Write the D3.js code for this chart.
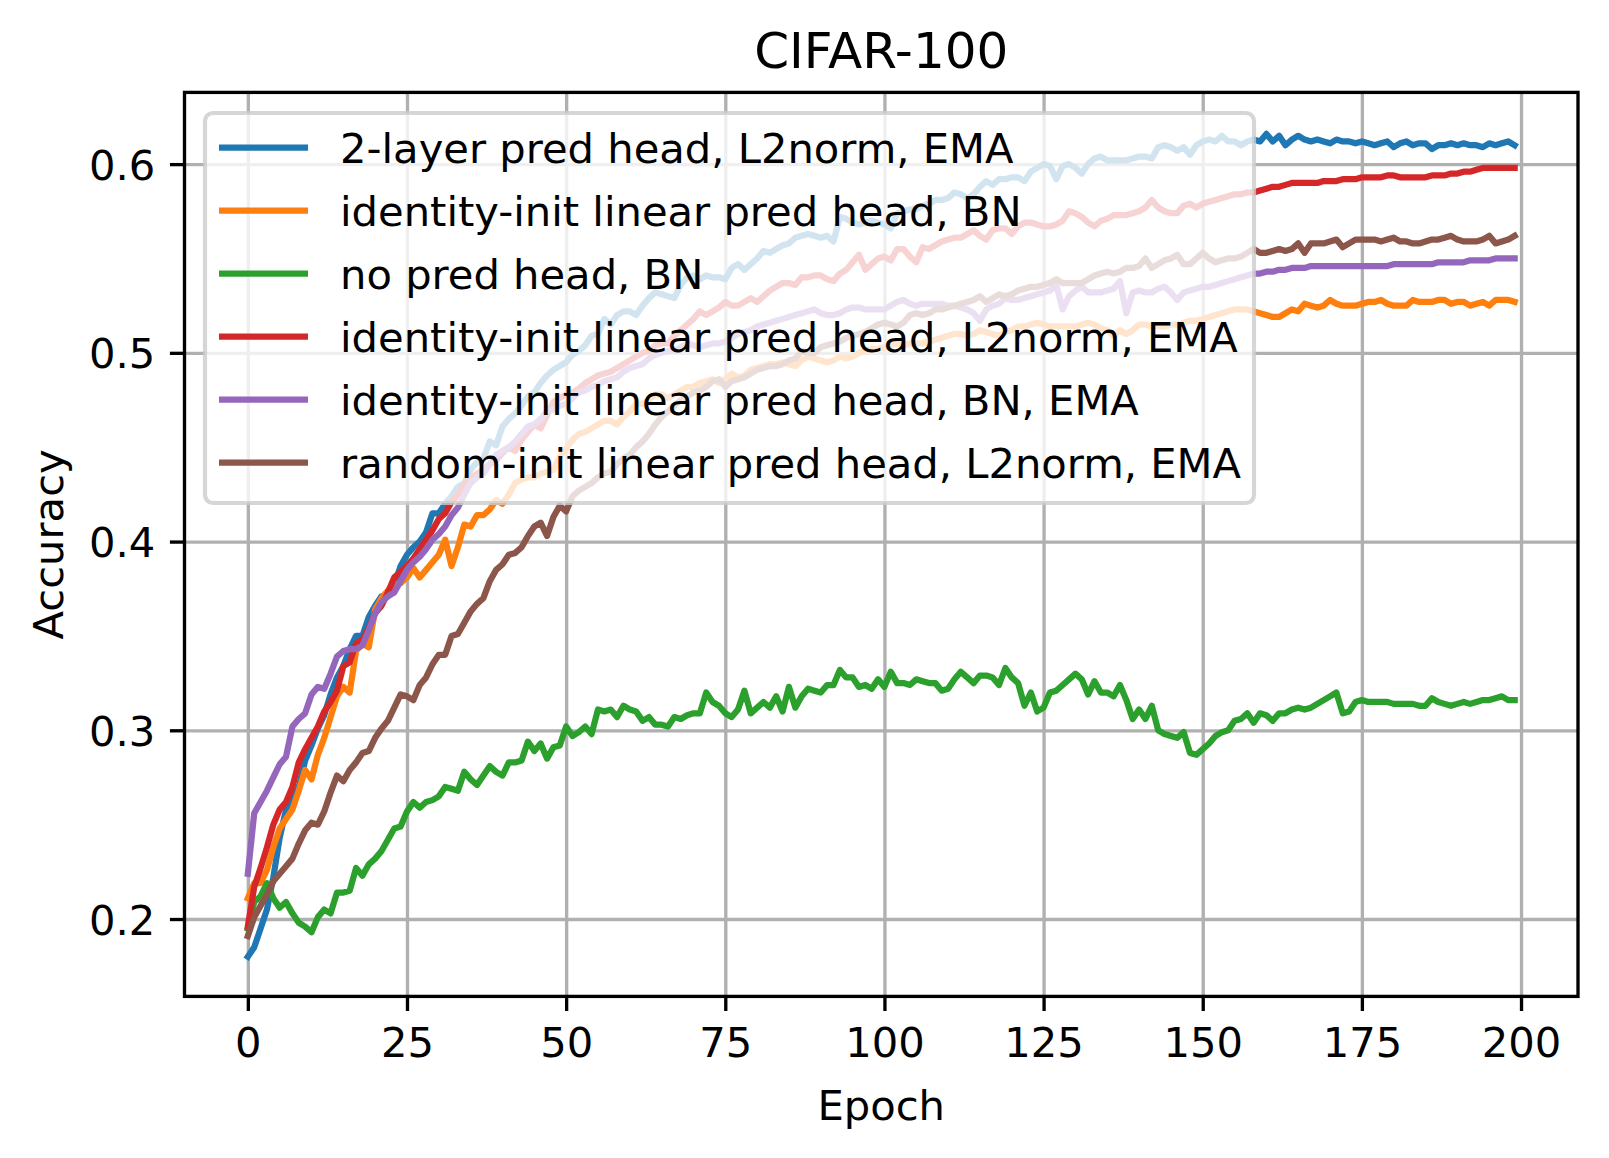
<html>
<head>
  <title> CIFAR-100 accuracy </title>
  <script src="https://d3js.org/d3.v7.min.js"></script>
  <style>
    body{ margin: 0; background: white; }
    text{ font-family: "DejaVu Sans", sans-serif; fill: black; }
  </style>
</head>
<body>
  <svg id="chart" width="1609" height="1158"></svg>
  <script>

    // one value per epoch (0..199)
    const twoLayerL2Ema = [
      .180,.185,.195,.205,.222,.243,.258,.263,.270,.284,.292,.301,.308,.319,.328,.334,.343,.350,.350,.360,
      .366,.371,.371,.377,.387,.393,.397,.400,.405,.415,.415,.420,.424,.429,.431,.438,.442,.444,.453,.451,
      .461,.465,.468,.472,.477,.479,.484,.488,.491,.493,.495,.499,.501,.504,.509,.510,.518,.515,.520,.522,
      .522,.520,.525,.529,.532,.531,.530,.529,.536,.540,.541,.539,.541,.540,.540,.539,.545,.547,.544,.547,
      .550,.554,.553,.555,.557,.558,.561,.562,.563,.562,.561,.562,.559,.572,.571,.569,.568,.569,.570,.569,
      .568,.566,.574,.575,.576,.576,.578,.579,.581,.581,.582,.585,.584,.582,.584,.588,.591,.589,.592,.592,
      .593,.593,.591,.596,.598,.600,.599,.592,.599,.600,.598,.595,.600,.603,.604,.602,.602,.602,.602,.603,
      .604,.604,.603,.609,.610,.609,.607,.609,.605,.610,.612,.613,.612,.615,.612,.612,.610,.612,.613,.612,
      .616,.612,.615,.610,.613,.615,.613,.612,.613,.612,.611,.613,.612,.612,.611,.612,.611,.610,.611,.612,
      .609,.611,.612,.610,.611,.611,.608,.610,.610,.611,.610,.611,.610,.610,.609,.611,.610,.611,.612,.610
    ];
    const identityBn = [
      .211,.219,.219,.226,.238,.248,.253,.258,.268,.279,.274,.287,.296,.307,.318,.323,.320,.342,.346,.344,
      .364,.370,.374,.377,.378,.381,.386,.381,.385,.389,.393,.401,.387,.397,.409,.408,.414,.414,.417,.422,
      .420,.425,.431,.433,.434,.434,.436,.437,.438,.445,.449,.454,.457,.458,.460,.462,.464,.464,.462,.466,
      .469,.473,.473,.475,.478,.478,.476,.478,.480,.482,.482,.484,.485,.486,.484,.486,.489,.487,.488,.491,
      .492,.493,.494,.494,.495,.494,.493,.496,.498,.497,.496,.495,.496,.498,.497,.498,.500,.501,.502,.502,
      .503,.504,.505,.504,.505,.505,.505,.506,.507,.508,.509,.510,.510,.509,.510,.512,.511,.510,.509,.511,
      .512,.514,.514,.515,.516,.515,.514,.514,.514,.514,.514,.515,.516,.515,.513,.512,.509,.512,.510,.512,
      .515,.515,.514,.514,.514,.515,.515,.516,.517,.517,.518,.519,.520,.521,.522,.523,.523,.523,.522,.521,
      .520,.519,.519,.521,.523,.522,.526,.525,.524,.525,.528,.526,.525,.525,.525,.526,.527,.527,.528,.526,
      .525,.525,.525,.528,.527,.527,.527,.528,.528,.526,.527,.527,.525,.526,.527,.525,.528,.528,.528,.527
    ];
    const noPredBn = [
      .195,.209,.212,.219,.211,.206,.209,.203,.198,.196,.193,.201,.205,.203,.214,.214,.215,.227,.223,.229,
      .232,.236,.242,.248,.249,.257,.262,.259,.262,.263,.265,.270,.269,.268,.278,.274,.271,.276,.281,.278,
      .276,.283,.283,.284,.294,.289,.293,.285,.291,.292,.302,.297,.299,.302,.298,.311,.310,.311,.307,.313,
      .311,.310,.305,.307,.303,.303,.302,.307,.306,.308,.309,.309,.320,.315,.313,.309,.307,.311,.321,.309,
      .312,.315,.312,.318,.310,.323,.312,.318,.322,.321,.320,.324,.324,.332,.328,.328,.323,.324,.322,.327,
      .323,.331,.325,.325,.324,.327,.326,.325,.325,.321,.322,.327,.331,.328,.325,.329,.329,.328,.324,.333,
      .328,.325,.313,.320,.310,.312,.320,.321,.324,.327,.330,.327,.319,.326,.320,.320,.318,.324,.316,.306,
      .311,.306,.313,.300,.298,.297,.296,.299,.288,.287,.290,.293,.297,.299,.300,.305,.306,.309,.304,.309,
      .308,.305,.309,.309,.311,.312,.311,.312,.314,.316,.318,.320,.309,.310,.315,.316,.315,.315,.315,.315,
      .314,.314,.314,.314,.313,.313,.317,.315,.314,.313,.314,.315,.314,.315,.316,.316,.317,.318,.316,.316
    ];
    const identityL2Ema = [
      .196,.217,.227,.238,.250,.258,.262,.270,.283,.290,.296,.302,.310,.315,.321,.334,.336,.346,.348,.354,
      .362,.366,.373,.381,.384,.387,.391,.396,.401,.406,.412,.415,.421,.425,.430,.433,.436,.438,.441,.443,
      .447,.450,.448,.454,.458,.462,.460,.467,.474,.476,.478,.479,.481,.484,.486,.488,.489,.490,.492,.494,
      .496,.498,.500,.501,.504,.505,.505,.509,.512,.515,.518,.522,.520,.522,.524,.527,.525,.525,.527,.529,
      .527,.530,.533,.535,.537,.537,.536,.540,.540,.541,.541,.539,.538,.542,.544,.548,.552,.544,.547,.550,
      .551,.549,.555,.555,.551,.548,.556,.555,.557,.559,.560,.561,.561,.563,.565,.562,.560,.565,.566,.566,
      .563,.567,.569,.569,.568,.567,.567,.568,.570,.575,.574,.572,.569,.567,.570,.571,.573,.573,.573,.574,
      .575,.577,.581,.577,.575,.574,.574,.578,.579,.577,.579,.580,.581,.582,.583,.584,.584,.585,.585,.586,
      .587,.588,.588,.589,.590,.590,.590,.590,.590,.591,.591,.591,.592,.592,.592,.593,.593,.593,.593,.594,
      .594,.593,.593,.593,.593,.593,.594,.594,.594,.595,.595,.596,.596,.597,.598,.598,.598,.598,.598,.598
    ];
    const identityBnEma = [
      .224,.256,.262,.268,.275,.282,.286,.302,.306,.309,.319,.323,.322,.330,.339,.342,.343,.343,.345,.353,
      .362,.368,.371,.373,.379,.385,.389,.392,.396,.401,.404,.408,.414,.418,.425,.431,.434,.436,.441,.446,
      .448,.450,.453,.457,.461,.462,.465,.469,.470,.472,.473,.476,.479,.480,.482,.483,.485,.486,.487,.490,
      .492,.493,.494,.497,.499,.500,.501,.501,.503,.505,.504,.503,.504,.505,.505,.506,.508,.510,.511,.512,
      .514,.515,.516,.517,.518,.519,.520,.521,.522,.523,.521,.520,.520,.521,.523,.524,.524,.523,.523,.523,
      .523,.525,.527,.528,.526,.525,.526,.526,.526,.526,.525,.525,.524,.523,.521,.517,.523,.525,.526,.529,
      .528,.528,.529,.530,.531,.532,.533,.536,.523,.530,.533,.535,.532,.532,.532,.533,.534,.538,.521,.532,
      .533,.532,.532,.534,.535,.532,.528,.532,.533,.534,.535,.535,.536,.537,.538,.539,.540,.541,.542,.542,
      .543,.543,.544,.544,.545,.545,.545,.546,.546,.546,.546,.546,.546,.546,.546,.546,.546,.546,.546,.546,
      .547,.547,.547,.547,.547,.547,.547,.548,.548,.548,.548,.548,.549,.549,.549,.549,.550,.550,.550,.550
    ];
    const randomL2Ema = [
      .191,.201,.207,.213,.220,.224,.228,.232,.240,.247,.251,.250,.257,.267,.276,.273,.279,.283,.288,.289,
      .296,.301,.305,.312,.319,.318,.316,.324,.328,.335,.340,.340,.350,.351,.357,.363,.367,.370,.379,.385,
      .388,.393,.394,.397,.403,.408,.410,.403,.413,.419,.416,.424,.427,.429,.431,.434,.436,.437,.441,.444,
      .446,.450,.453,.457,.462,.466,.469,.472,.475,.477,.479,.480,.482,.485,.486,.482,.485,.486,.487,.489,
      .491,.492,.493,.493,.494,.496,.497,.501,.500,.500,.503,.504,.505,.506,.508,.509,.510,.511,.513,.515,
      .516,.515,.514,.516,.520,.521,.520,.521,.523,.523,.524,.525,.526,.527,.528,.530,.527,.529,.531,.530,
      .531,.533,.534,.535,.535,.536,.537,.539,.537,.537,.537,.537,.539,.541,.542,.543,.542,.543,.545,.545,
      .546,.550,.545,.547,.549,.550,.552,.547,.547,.550,.553,.550,.548,.549,.550,.550,.551,.553,.555,.553,
      .553,.554,.555,.554,.555,.558,.553,.558,.558,.558,.559,.560,.556,.558,.560,.560,.560,.560,.559,.560,
      .561,.559,.559,.558,.558,.559,.560,.560,.561,.562,.560,.559,.559,.559,.560,.562,.558,.559,.560,.562
    ];

    const seriesNames = [
      "2-layer pred head, L2norm, EMA",
      "identity-init linear pred head, BN",
      "no pred head, BN",
      "identity-init linear pred head, L2norm, EMA",
      "identity-init linear pred head, BN, EMA",
      "random-init linear pred head, L2norm, EMA"
    ];
    const seriesValues = [twoLayerL2Ema, identityBn, noPredBn, identityL2Ema, identityBnEma, randomL2Ema];
    const seriesColors = ["#1f77b4", "#ff7f0e", "#2ca02c", "#d62728", "#9467bd", "#8c564b"];
    const xTicks = [0, 25, 50, 75, 100, 125, 150, 175, 200];
    const yTicks = [0.2, 0.3, 0.4, 0.5, 0.6];

    const svg = d3.select("#chart");
    const plot = {left: 184.5, right: 1578, top: 92.4, bottom: 996.4};
    const px = 300 / 72;   // matplotlib points at 300 dpi

    const x = d3.scaleLinear().domain([-9.95, 208.95]).range([plot.left, plot.right]);
    const y = d3.scaleLinear().domain([0.159, 0.638]).range([plot.bottom, plot.top]);

    // gridlines
    const grid = svg.append("g").attr("id", "grid");
    grid.append("g")
      .attr("transform", `translate(0,${plot.bottom})`)
      .call(d3.axisBottom(x).tickValues(xTicks).tickSize(-(plot.bottom - plot.top)).tickFormat(""))
      .call(g => g.select(".domain").remove())
      .selectAll("line").attr("stroke", "#b0b0b0").attr("stroke-width", 0.8 * px);
    grid.append("g")
      .attr("transform", `translate(${plot.left},0)`)
      .call(d3.axisLeft(y).tickValues(yTicks).tickSize(-(plot.right - plot.left)).tickFormat(""))
      .call(g => g.select(".domain").remove())
      .selectAll("line").attr("stroke", "#b0b0b0").attr("stroke-width", 0.8 * px);

    // curves
    const line = d3.line().x((d, i) => x(i)).y(d => y(d));
    const curves = svg.append("g").attr("id", "curves");
    seriesValues.forEach((vals, k) => {
      curves.append("path")
        .datum(vals)
        .attr("d", line)
        .attr("fill", "none")
        .attr("stroke", seriesColors[k])
        .attr("stroke-width", 1.5 * px)
        .attr("stroke-linejoin", "round")
        .attr("stroke-linecap", "square");
    });

    // axes
    const axes = svg.append("g").attr("id", "axes");
    const xAxis = axes.append("g")
      .attr("transform", `translate(0,${plot.bottom})`)
      .call(d3.axisBottom(x).tickValues(xTicks).tickSize(3.5 * px).tickPadding(3.5 * px).tickFormat(d3.format("d")));
    const yAxis = axes.append("g")
      .attr("transform", `translate(${plot.left},0)`)
      .call(d3.axisLeft(y).tickValues(yTicks).tickSize(3.5 * px).tickPadding(3.5 * px).tickFormat(d3.format(".1f")));
    [xAxis, yAxis].forEach(a => {
      a.select(".domain").remove();
      a.selectAll("line").attr("stroke", "black").attr("stroke-width", 0.8 * px);
      a.selectAll("text").attr("font-size", 10 * px).attr("font-family", "DejaVu Sans");
    });
    xAxis.selectAll("text").attr("dy", "0.76em");
    yAxis.selectAll("text").attr("dy", "0.36em");

    axes.append("rect")
      .attr("x", plot.left).attr("y", plot.top)
      .attr("width", plot.right - plot.left).attr("height", plot.bottom - plot.top)
      .attr("fill", "none").attr("stroke", "black").attr("stroke-width", 0.8 * px);

    // legend
    const legend = svg.append("g").attr("id", "legend");
    legend.append("rect")
      .attr("x", 205).attr("y", 113).attr("width", 1049).attr("height", 390)
      .attr("rx", 8).attr("ry", 8)
      .attr("fill", "white").attr("fill-opacity", 0.8)
      .attr("stroke", "#cccccc").attr("stroke-opacity", 0.8).attr("stroke-width", 1.0 * px);
    seriesNames.forEach((name, k) => {
      const ly = 147.7 + k * 63;
      legend.append("line")
        .attr("x1", 219).attr("x2", 308).attr("y1", ly).attr("y2", ly)
        .attr("stroke", seriesColors[k]).attr("stroke-width", 1.5 * px)
        .attr("stroke-linecap", "butt");
      legend.append("text")
        .attr("x", 340).attr("y", ly + 15.3)
        .attr("font-size", 10 * px)
        .text(name);
    });

    // title and labels
    svg.append("text")
      .attr("x", (plot.left + plot.right) / 2).attr("y", 68)
      .attr("text-anchor", "middle").attr("font-size", 12 * px)
      .text("CIFAR-100");
    svg.append("text")
      .attr("x", (plot.left + plot.right) / 2).attr("y", 1120)
      .attr("text-anchor", "middle").attr("font-size", 10 * px)
      .text("Epoch");
    svg.append("text")
      .attr("transform", `translate(63,${(plot.top + plot.bottom) / 2}) rotate(-90)`)
      .attr("text-anchor", "middle").attr("font-size", 10 * px)
      .text("Accuracy");

  </script>
</body>
</html>
